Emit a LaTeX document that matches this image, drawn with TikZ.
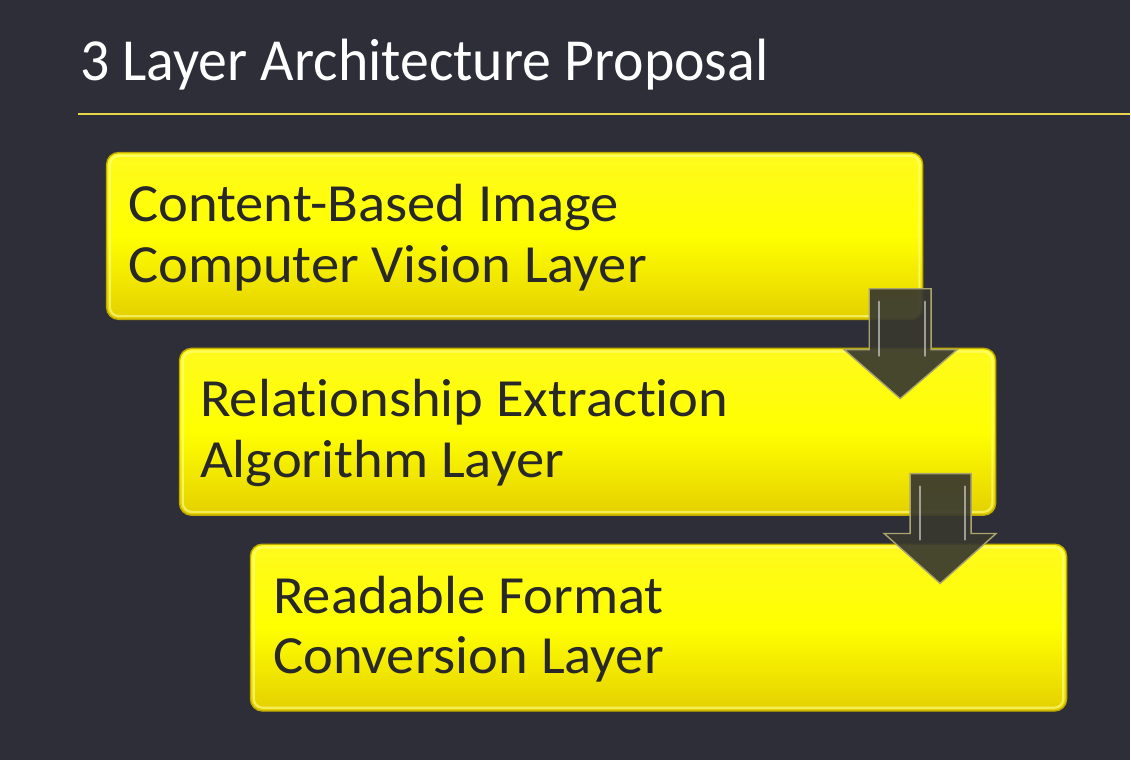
\documentclass[tikz,border=0pt]{standalone}
\usepackage{fontspec}
\setmainfont{Carlito}[Ligatures=NoCommon]
\definecolor{bgcol}{RGB}{46,46,56}
\definecolor{rulecol}{RGB}{232,212,72}
\definecolor{boxtop}{RGB}{255,250,30}
\definecolor{boxbot}{RGB}{228,208,0}
\definecolor{boxedge}{RGB}{190,170,0}
\definecolor{boxrim}{RGB}{255,255,150}
\definecolor{txtcol}{RGB}{40,40,40}
\definecolor{arrfill}{RGB}{56,56,48}
\definecolor{arredge}{RGB}{170,165,110}
\tikzset{
  layerbox/.style={rounded corners=0.24cm, top color=boxtop, bottom color=boxbot, middle color=yellow,
    draw=boxedge, line width=0.8pt, minimum width=16.34cm, minimum height=3.34cm, anchor=north west, inner sep=0},
  boxrimline/.style={draw=boxrim, draw opacity=0.6, line width=1.2pt, rounded corners=0.18cm},
  layertext/.style={text=txtcol, font=\fontsize{30.6}{34.6}\selectfont, align=left, anchor=west, inner sep=0, xscale=1.053},
  blockarrow/.style={fill=arrfill, fill opacity=0.92, draw=arredge, line width=0.8pt, line join=miter},
  gloss/.style={white, opacity=0.5, line width=0.05cm, line cap=round}
}
\begin{document}
\begin{tikzpicture}[x=0.02cm,y=-0.02cm]
\fill[bgcol] (0,0) rectangle (1131,761);
\node[anchor=base west, inner sep=0, text=white, font=\fontsize{34}{40}\selectfont, xscale=0.968] (title) at (80,81) {3 Layer Architecture Proposal};
\coordinate (rl) at (78,114);
\coordinate (rr) at (1131,114);
\draw[rulecol, line width=1.2pt] (rl) -- (rr);

\node[layerbox] (b1) at (106,152) {};
\node[layerbox] (b2) at (179,348) {};
\node[layerbox] (b3) at (250,544) {};
\foreach \b in {b1,b2,b3}{
  \draw[boxrimline] ([shift={(4,4)}]\b.north west) rectangle ([shift={(-4,-4)}]\b.south east);
}

\node[layertext] (t1) at ([xshift=0.44cm, yshift=-0.03cm]b1.west) {Content-Based Image\\Computer Vision Layer};
\node[layertext] (t2) at ([xshift=0.42cm, yshift=-0.03cm]b2.west) {Relationship Extraction\\Algorithm Layer};
\node[layertext] (t3) at ([xshift=0.46cm, yshift=-0.03cm]b3.west) {Readable Format\\Conversion Layer};

% arrow from box 1 to box 2
\draw[blockarrow] (870,289) -- (932,289) -- (932,350) -- (958,350) -- (901,399) -- (845,350) -- (870,350) -- cycle;
\draw[gloss] (880,302) -- (880,356);
\draw[gloss] (926,302) -- (926,356);
% arrow from box 2 to box 3
\draw[blockarrow] (911,474) -- (972,474) -- (972,534) -- (997,534) -- (941,584) -- (885,534) -- (911,534) -- cycle;
\draw[gloss] (921,487) -- (921,540);
\draw[gloss] (966,487) -- (966,540);
\end{tikzpicture}
\end{document}
